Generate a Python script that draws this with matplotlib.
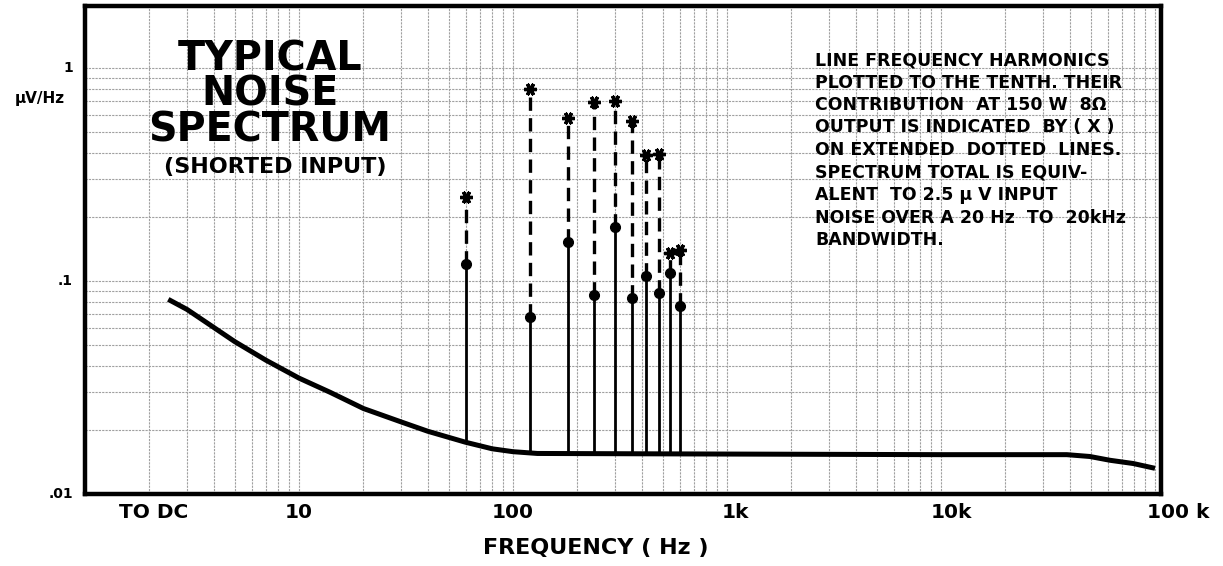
import numpy as np
import matplotlib
matplotlib.use("Agg")
import matplotlib.pyplot as plt
from matplotlib.ticker import LogLocator, NullFormatter
from matplotlib.transforms import blended_transform_factory

# noise floor curve (Hz, uV/Hz)
curve_f = [2.45, 3.0, 4.0, 5.0, 7.0, 10, 14, 20, 30, 40, 60, 80, 100, 130,
           1000, 10000, 38700, 49600, 61600, 79200, 100000]
curve_v = [0.082, 0.0735, 0.0605, 0.052, 0.0425, 0.035, 0.030, 0.0252, 0.0218, 0.0197,
           0.0175, 0.0163, 0.0158, 0.0155, 0.0154, 0.0153, 0.0153, 0.0150, 0.0144, 0.0139, 0.0132]

# 60 Hz line harmonics, 1st to 10th
harm_f = [60, 120, 180, 240, 300, 360, 420, 480, 540, 600]
harm_base = [0.0175, 0.0155, 0.0155, 0.0155, 0.0155, 0.0155, 0.0155, 0.0155, 0.0155, 0.0155]
harm_dot = [0.120, 0.068, 0.153, 0.086, 0.179, 0.083, 0.105, 0.088, 0.109, 0.076]
harm_x = [0.249, 0.796, 0.582, 0.695, 0.700, 0.566, 0.391, 0.395, 0.136, 0.140]

xlabels = ["TO DC", "10", "100", "1k", "10k", "100 k"]
xlabel_pos = [2.1, 10, 100, 1100, 11200, 128000]
ylabels = ["1", ".1", ".01"]
ylabel_pos = [1, 0.1, 0.01]

note = ["LINE FREQUENCY HARMONICS",
        "PLOTTED TO THE TENTH. THEIR",
        "CONTRIBUTION  AT 150 W  8\u03a9",
        "OUTPUT IS INDICATED  BY ( X )",
        "ON EXTENDED  DOTTED  LINES.",
        "SPECTRUM TOTAL IS EQUIV-",
        "ALENT  TO 2.5 \u00b5 V INPUT",
        "NOISE OVER A 20 Hz  TO  20kHz",
        "BANDWIDTH."]

W, H = 1223, 566
fig = plt.figure(figsize=(W / 100, H / 100), dpi=100)
ax = fig.add_axes([85 / W, 1 - 494 / H, (1161 - 85) / W, (494 - 6) / H])
ax.set_xscale("log")
ax.set_yscale("log")
ax.set_xlim(1, 10 ** (1076 / 214))
ax.set_ylim(0.01, 1.955)

ax.xaxis.set_minor_locator(LogLocator(base=10, subs=np.arange(2, 10)))
ax.yaxis.set_minor_locator(LogLocator(base=10, subs=np.arange(2, 10)))
ax.xaxis.set_minor_formatter(NullFormatter())
ax.yaxis.set_minor_formatter(NullFormatter())
ax.tick_params(which="both", length=0, labelbottom=False, labelleft=False)
ax.grid(which="both", color="#a0a0a0", lw=0.8, ls=(0, (2, 1)))
for s in ax.spines.values():
    s.set_linewidth(3.2)
    s.set_color("black")

ax.plot(curve_f, curve_v, color="black", lw=3.6, solid_capstyle="butt",
        solid_joinstyle="round", zorder=4)

for f, b, d, x in zip(harm_f, harm_base, harm_dot, harm_x):
    ax.plot([f, f], [b, d], color="black", lw=2.0, zorder=3)
    ax.plot([f, f], [d, x], color="black", lw=2.4, ls=(0, (4, 2.2)), zorder=3)
ax.plot(harm_f, harm_dot, "o", color="black", ms=7, zorder=5)
ax.plot(harm_f, harm_x, ls="none", marker=(6, 2, 30), color="black", ms=9, mew=2.4, zorder=5)

tx = blended_transform_factory(ax.transData, ax.transAxes)
for lab, pos in zip(xlabels, xlabel_pos):
    ax.text(pos, -19 / 488, lab, transform=tx, ha="center", va="center",
            fontsize=14.5, fontweight="bold", clip_on=False)
ty = blended_transform_factory(ax.transAxes, ax.transData)
for lab, pos in zip(ylabels, ylabel_pos):
    ax.text(-12 / 1076, pos, lab, transform=ty, ha="right", va="center",
            fontsize=10, fontweight="bold", clip_on=False)

fig.text(596 / W, 1 - 548 / H, "FREQUENCY ( Hz )", ha="center", va="center",
         fontsize=16, fontweight="bold")
fig.text(40 / W, 1 - 99 / H, "\u00b5V/Hz", ha="center", va="center",
         fontsize=11, fontweight="bold")

fig.text(270 / W, 1 - 95 / H, "TYPICAL\nNOISE\nSPECTRUM", ha="center", va="center",
         multialignment="center", fontsize=28.5, fontweight="bold", linespacing=0.84)
fig.text(275 / W, 1 - 167 / H, "(SHORTED INPUT)", ha="center", va="center",
         fontsize=16, fontweight="bold")

for i, line in enumerate(note):
    fig.text(815 / W, 1 - (60 + 22.5 * i) / H, line, ha="left", va="center",
             fontsize=12.5, fontweight="bold")

fig.savefig("out.png", dpi=100)
